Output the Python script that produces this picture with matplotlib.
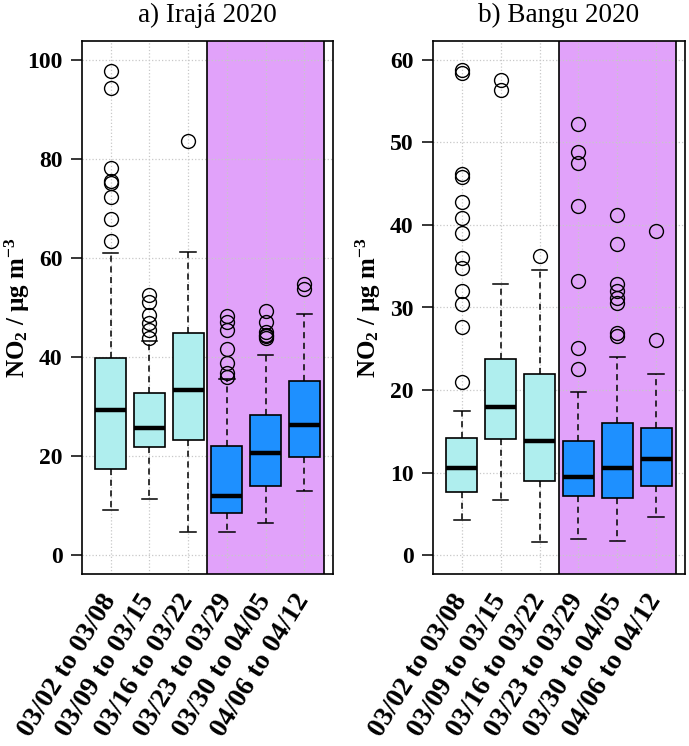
import numpy as np
import matplotlib
matplotlib.use('Agg')
import matplotlib.pyplot as plt

plt.rcParams['font.family'] = ['Liberation Serif', 'DejaVu Serif']
plt.rcParams['mathtext.fontset'] = 'custom'
plt.rcParams['mathtext.rm'] = 'Liberation Serif:bold'
plt.rcParams['mathtext.bf'] = 'Liberation Serif:bold'
plt.rcParams['mathtext.default'] = 'bf'

weeks = ['03/02 to 03/08', '03/09 to 03/15', '03/16 to 03/22',
         '03/23 to 03/29', '03/30 to 04/05', '04/06 to 04/12']

# Iraja 2020 box stats
iraja_low = [9.1, 11.3, 4.6, 4.6, 6.5, 13.0]
iraja_q1 = [17.4, 21.8, 23.3, 8.5, 13.9, 19.7]
iraja_med = [29.2, 25.7, 33.4, 11.9, 20.5, 26.3]
iraja_q3 = [39.7, 32.7, 44.9, 22.1, 28.3, 35.1]
iraja_high = [60.9, 43.2, 61.2, 35.5, 40.4, 48.6]
iraja_out = [[97.8, 94.3, 78.1, 75.6, 75.2, 72.2, 67.9, 63.4],
             [52.5, 51.0, 48.5, 46.9, 45.5, 43.8],
             [83.7],
             [48.2, 47.1, 45.5, 41.6, 38.7, 36.8, 36.0],
             [49.3, 47.1, 45.0, 44.5, 44.2, 43.8],
             [54.8, 53.7]]

# Bangu 2020 box stats
bangu_low = [4.3, 6.7, 1.6, 1.9, 1.7, 4.6]
bangu_q1 = [7.6, 14.1, 9.0, 7.2, 6.9, 8.4]
bangu_med = [10.6, 17.9, 13.8, 9.5, 10.6, 11.6]
bangu_q3 = [14.2, 23.7, 21.9, 13.8, 16.0, 15.4]
bangu_high = [17.4, 32.8, 34.5, 19.8, 24.0, 21.9]
bangu_out = [[58.8, 58.4, 46.2, 45.8, 42.8, 40.8, 39.0, 36.0, 34.8, 32.0, 30.4, 27.6, 21.0],
             [57.6, 56.4],
             [36.3],
             [52.2, 48.9, 47.5, 42.3, 33.2, 25.1, 22.6],
             [41.2, 37.7, 32.8, 32.0, 31.2, 30.6, 26.9, 26.6],
             [39.3, 26.1]]

box_colors = ['#AFEEEE'] * 3 + ['#1E90FF'] * 3
shade_color = '#E1A2FA'


def make_stats(low, q1, med, q3, high, out):
    stats = []
    for i in range(len(med)):
        stats.append(dict(whislo=low[i], q1=q1[i], med=med[i], q3=q3[i],
                          whishi=high[i], fliers=out[i]))
    return stats


fig = plt.figure(figsize=(6.89, 7.46), dpi=100)
ax1 = fig.add_axes([82 / 689, 172 / 746, 251 / 689, 533 / 746])
ax2 = fig.add_axes([433 / 689, 172 / 746, 252 / 689, 533 / 746])

panels = [(ax1, make_stats(iraja_low, iraja_q1, iraja_med, iraja_q3, iraja_high, iraja_out),
           'a) Irajá 2020', np.arange(0, 101, 20), (-3.84, 103.8)),
          (ax2, make_stats(bangu_low, bangu_q1, bangu_med, bangu_q3, bangu_high, bangu_out),
           'b) Bangu 2020', np.arange(0, 61, 10), (-2.3, 62.3))]

pos = np.arange(1, 7)
for ax, stats, title, yt, yl in panels:
    ax.axvspan(3.5, 6.5, color=shade_color, zorder=0, lw=0)
    ax.axvline(3.5, color='black', lw=1.2, zorder=0.8)
    ax.axvline(6.5, color='black', lw=1.2, zorder=0.8)
    for x in pos:
        ax.axvline(x, color='#C8C8C8', lw=0.9, ls=':', zorder=0.5)
    for y in yt:
        ax.axhline(y, color='#C8C8C8', lw=0.9, ls=':', zorder=0.5)

    bp = ax.bxp(stats, positions=pos, widths=0.8, capwidths=0.4, patch_artist=True,
                boxprops=dict(edgecolor='black', lw=1.2),
                medianprops=dict(color='black', lw=3.2),
                whiskerprops=dict(color='black', lw=1.1, ls=(0, (4, 3))),
                capprops=dict(color='black', lw=1.1),
                flierprops=dict(marker='o', markerfacecolor='none', markeredgecolor='black',
                                markersize=10, markeredgewidth=1.0))
    for patch, c in zip(bp['boxes'], box_colors):
        patch.set_facecolor(c)
    for k in bp:
        for art in bp[k]:
            art.set_zorder(2)

    ax.set_xlim(0.26, 6.74)
    ax.set_ylim(*yl)
    ax.set_yticks(yt)
    ax.set_yticklabels([str(v) for v in yt], fontsize=17, fontweight='bold')
    ax.tick_params(axis='y', length=8, width=1.1, pad=6)
    ax.set_xticks(pos)
    ax.set_xticklabels(weeks, rotation=58, ha='right', va='center',
                       rotation_mode='anchor', fontsize=20, fontweight='bold')
    ax.tick_params(axis='x', length=0, pad=16)
    ax.set_title(title, fontsize=19.5, pad=14)
    ax.set_ylabel('NO$_2$ / µg m$^{-3}$', fontsize=18, fontweight='bold')
    ax.yaxis.set_label_coords(-0.2, 0.5)
    for s in ax.spines.values():
        s.set_linewidth(1.2)

fig.savefig('out.png', dpi=100)
